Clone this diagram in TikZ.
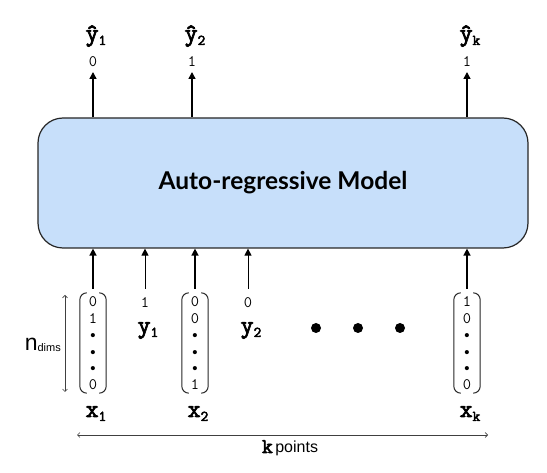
\documentclass[tikz,border=0pt]{standalone}
\usepackage{fontspec}
\setmainfont{Lato}
\newfontfamily\arialfam{Liberation Sans}
\newfontfamily\courbf{Latin Modern Mono}[FakeBold=3]
\usetikzlibrary{arrows.meta}
\definecolor{boxblue}{RGB}{199,223,250}
\newcommand\varlbl[2]{{\courbf\fontsize{25}{26}\selectfont #1\raisebox{-4pt}{\fontsize{15}{15}\selectfont #2}}}
\begin{document}
\begin{tikzpicture}[x=1pt,y=-1pt,
  model/.style={draw=black!85, line width=1.2pt, fill=boxblue, rounded corners=25pt,
    minimum width=490pt, minimum height=130pt, font=\fontsize{24.5}{28}\selectfont\bfseries},
  num/.style={font=\ttfamily\fontsize{16}{16}\selectfont, inner sep=0pt},
  var/.style={inner sep=0pt},
  vec/.style={minimum width=26pt, minimum height=100pt, inner sep=0pt, align=center,
    font=\ttfamily\fontsize{16}{16.5}\selectfont},
  brk/.style={line width=1pt, rounded corners=7pt, draw=black!85},
  arr/.style={-{Triangle[length=7pt,width=7pt]}, line width=1.5pt},
  tarr/.style={-{Triangle[length=7pt,width=7pt]}, line width=1pt},
  dimarr/.style={{Straight Barb[length=2.5pt,width=5pt]}-{Straight Barb[length=2.5pt,width=5pt]}, line width=0.7pt, draw=black!75},
  bigdot/.style={circle, fill=black, inner sep=0pt, minimum size=10pt},
]
\useasboundingbox (0,0) rectangle (547,473);

\node[model] (m) at (283,183) {Auto-regressive Model};

% outputs
\node[num] (o1) at (93,62) {0};
\node[num] (o2) at (192,62) {1};
\node[num] (ok) at (467,62) {1};
\node[var, anchor=base] (h1) at (96,41) {\varlbl{ŷ}{1}};
\node[var, anchor=base] (h2) at (195,41) {\varlbl{ŷ}{2}};
\node[var, anchor=base] (hk) at (470,41) {\varlbl{ŷ}{k}};
\foreach \o in {o1,o2,ok} \draw[arr, shorten >=10pt] (m.north -| \o) -- (\o.center);

% input vectors
\node[vec] (v1) at (93,343) {0\\1\\•\\•\\•\\0};
\node[vec] (v2) at (195,343) {0\\0\\•\\•\\•\\1};
\node[vec] (vk) at (467,343) {1\\0\\•\\•\\•\\0};
\foreach \v in {v1,v2,vk} {
  \draw[brk] ([xshift=7pt]\v.north west) -- (\v.north west) -- (\v.south west) -- ([xshift=7pt]\v.south west);
  \draw[brk] ([xshift=-7pt]\v.north east) -- (\v.north east) -- (\v.south east) -- ([xshift=-7pt]\v.south east);
  \draw[arr, shorten <=4pt] (\v.north) -- (\v.north |- m.south);
}
\node[var, anchor=base] (xl1) at (96,417) {\varlbl{x}{1}};
\node[var, anchor=base] (xl2) at (198,417) {\varlbl{x}{2}};
\node[var, anchor=base] (xlk) at (470,417) {\varlbl{x}{k}};

% previous targets
\node[num] (yv1) at (145,303) {1};
\node[num] (yv2) at (248,303) {0};
\node[var, anchor=base] (yl1) at (148,333) {\varlbl{y}{1}};
\node[var, anchor=base] (yl2) at (251,333) {\varlbl{y}{2}};
\foreach \y in {yv1,yv2} \draw[tarr, shorten <=14pt] (\y.center) -- (\y |- m.south);

% ellipsis dots
\node[bigdot] (d1) at (316,328) {};
\node[bigdot] (d2) at (358,328) {};
\node[bigdot] (d3) at (400,328) {};

% n_dims dimension
\coordinate (nt) at (65,295);
\coordinate (nb) at (65,392);
\draw[dimarr] (nt) -- (nb);
\node[anchor=base east, inner sep=0pt, font=\arialfam\fontsize{23}{24}\selectfont] (nd) at (61,351)
  {n\raisebox{-1pt}{\fontsize{11}{11}\selectfont dims}};

% k points dimension
\coordinate (kl) at (77,435);
\coordinate (kr) at (488,435);
\draw[dimarr] (kl) -- (kr);
\node[anchor=base, inner sep=0pt] (kp) at (290,453)
  {{\courbf\fontsize{21}{22}\selectfont k} {\arialfam\fontsize{16}{18}\selectfont points}};
\end{tikzpicture}
\end{document}
